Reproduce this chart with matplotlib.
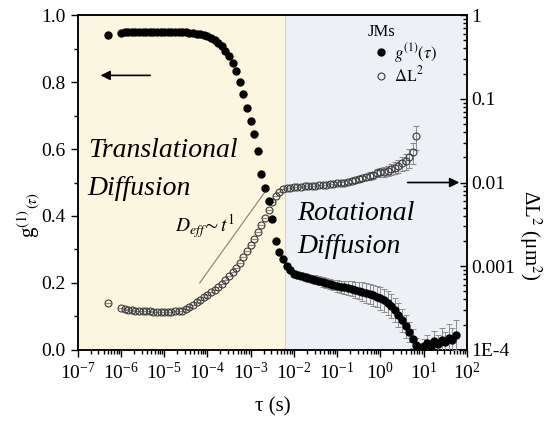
import numpy as np
import matplotlib
matplotlib.use("Agg")
import matplotlib.pyplot as plt
from matplotlib.lines import Line2D
from matplotlib.ticker import LogLocator, FixedLocator, MultipleLocator, NullFormatter, FixedFormatter

plt.rcParams['font.family'] = ['Liberation Serif', 'DejaVu Serif']
plt.rcParams['mathtext.fontset'] = 'stix'

# ---------------- data ----------------
# first (lone) point at 5e-7 s, then the correlator grid: 12 lag times per decade from 1e-6 s
tau_first = 5e-7
g1_first = 0.94
dl_first = 3.63e-4

g1 = [0.948, 0.949, 0.949, 0.950, 0.950, 0.950, 0.950, 0.950, 0.951, 0.951, 0.951, 0.951,
      0.951, 0.951, 0.951, 0.950, 0.950, 0.950, 0.949, 0.948, 0.947, 0.945, 0.943, 0.940,
      0.937, 0.933, 0.927, 0.918, 0.907, 0.893, 0.877, 0.857, 0.832, 0.800, 0.763, 0.722,
      0.685, 0.645, 0.595, 0.525, 0.485, 0.445, 0.390, 0.325, 0.293, 0.272, 0.250, 0.240,
      0.228, 0.225, 0.222, 0.219, 0.216, 0.213, 0.210, 0.207, 0.204, 0.200, 0.197, 0.194,
      0.191, 0.189, 0.187, 0.185, 0.183, 0.180, 0.177, 0.174, 0.171, 0.167, 0.163, 0.159,
      0.154, 0.148, 0.140, 0.130, 0.118, 0.104, 0.088, 0.070, 0.052, 0.033, 0.015, 0.006,
      0.012, 0.020, 0.010, 0.025, 0.018, 0.030, 0.024, 0.036, 0.030, 0.044]

g1_err = [0.0] * 46 + [
      0.008, 0.008,
      0.010, 0.010, 0.010, 0.012, 0.012, 0.012, 0.014, 0.014, 0.015, 0.015, 0.016, 0.016,
      0.018, 0.018, 0.020, 0.020, 0.022, 0.024, 0.026, 0.028, 0.030, 0.030, 0.032, 0.032,
      0.034, 0.034, 0.035, 0.036, 0.036, 0.036, 0.035, 0.034, 0.030, 0.028, 0.020, 0.015,
      0.020, 0.025, 0.020, 0.030, 0.025, 0.035, 0.030, 0.040, 0.035, 0.045]

# Delta L^2 in um^2
dl = [3.16e-4, 3.09e-4, 3.02e-4, 3.02e-4, 2.95e-4, 2.95e-4, 2.88e-4, 2.88e-4, 2.88e-4, 2.82e-4, 2.82e-4, 2.82e-4,
      2.82e-4, 2.82e-4, 2.82e-4, 2.88e-4, 2.88e-4, 2.95e-4, 3.09e-4, 3.24e-4, 3.47e-4, 3.72e-4, 3.98e-4, 4.27e-4,
      4.57e-4, 4.90e-4, 5.25e-4, 5.62e-4, 6.17e-4, 6.76e-4, 7.59e-4, 8.51e-4, 9.55e-4, 1.10e-3, 1.29e-3, 1.51e-3,
      1.78e-3, 2.14e-3, 2.57e-3, 3.09e-3, 3.72e-3, 4.68e-3, 5.89e-3, 6.92e-3, 7.76e-3, 8.32e-3, 8.51e-3, 8.71e-3,
      8.91e-3, 8.91e-3, 8.91e-3, 9.12e-3, 9.12e-3, 9.12e-3, 9.12e-3, 9.33e-3, 9.33e-3, 9.33e-3, 9.55e-3, 9.55e-3,
      9.77e-3, 9.77e-3, 1.00e-2, 1.02e-2, 1.05e-2, 1.07e-2, 1.10e-2, 1.12e-2, 1.17e-2, 1.20e-2, 1.23e-2, 1.29e-2,
      1.32e-2, 1.35e-2, 1.38e-2, 1.45e-2, 1.51e-2, 1.58e-2, 1.70e-2, 1.82e-2, 2.00e-2, 2.29e-2, 3.63e-2]

dl_relerr = [0.0] * 60 + [
      0.05, 0.05, 0.06, 0.06, 0.07, 0.07, 0.08, 0.08, 0.09, 0.10, 0.10, 0.11,
      0.12, 0.13, 0.14, 0.15, 0.16, 0.18, 0.20, 0.22, 0.25, 0.28, 0.32]

tau_split = 6.2e-3          # translational / rotational boundary
fit_tau = [6.6e-5, 2.1e-3]  # guide line D_eff ~ t^1
fit_dl = [6.3e-4, 7.6e-3]

# ---------------- assemble ----------------
tau = np.logspace(-6, -6 + (len(g1) - 1) / 12, len(g1))
tau_g = np.concatenate([[tau_first], tau])
g_all = np.concatenate([[g1_first], g1])
g_err = np.concatenate([[0.0], g1_err])
tau_d = np.concatenate([[tau_first], tau[:len(dl)]])
d_all = np.concatenate([[dl_first], dl])
d_err = np.concatenate([[0.0], np.array(dl_relerr) * np.array(dl)])

fig = plt.figure(figsize=(5.44, 4.21), dpi=100)
ax = fig.add_axes([0.143, 0.169, 0.715, 0.795])
ax2 = ax.twinx()
ax.set_zorder(ax2.get_zorder() + 1)
ax.patch.set_visible(False)

# backgrounds
ax2.axvspan(1e-7, tau_split, color='#fbf6e0', lw=0, zorder=0)
ax2.axvspan(tau_split, 1e2, color='#edf0f4', lw=0, zorder=0)
ax2.axvline(tau_split, color='#d9d6c8', lw=0.8, zorder=0.5)

MS = 5.0
# Delta L^2 (right axis)
ax2.errorbar(tau_d, d_all, yerr=d_err, fmt='o', ms=MS, mfc='none', mec='#3a3a3a', mew=0.8,
             ecolor='#8c8c8c', elinewidth=0.7, capsize=2, capthick=0.7, zorder=2)
ax2.plot(fit_tau, fit_dl, color='#8a8070', lw=0.8, zorder=1)

# g1 (left axis)
ax.errorbar(tau_g, g_all, yerr=g_err, fmt='o', ms=MS, color='black',
            ecolor='#8c8c8c', elinewidth=0.7, capsize=2, capthick=0.7, zorder=3)

ax.set_xscale('log')
ax.set_xlim(1e-7, 1e2)
ax.set_ylim(0, 1)
ax2.set_yscale('log')
ax2.set_ylim(1e-4, 1)

# ticks
ax.xaxis.set_major_locator(LogLocator(base=10, numticks=20))
ax.xaxis.set_minor_locator(LogLocator(base=10, subs=np.arange(2, 10), numticks=20))
ax.xaxis.set_minor_formatter(NullFormatter())
ax.yaxis.set_major_locator(MultipleLocator(0.2))
ax.yaxis.set_minor_locator(MultipleLocator(0.1))
ax.set_yticklabels([f'{v:.1f}' for v in ax.get_yticks()])
ax.tick_params(axis='both', which='both', direction='out', labelsize=14, top=False, right=False, width=1)
ax.tick_params(axis='both', which='major', length=5)
ax.tick_params(axis='both', which='minor', length=3)

ax2.yaxis.set_major_locator(FixedLocator([1e-4, 1e-3, 1e-2, 1e-1, 1]))
ax2.yaxis.set_major_formatter(FixedFormatter(['1E-4', '0.001', '0.01', '0.1', '1']))
ax2.yaxis.set_minor_locator(LogLocator(base=10, subs=np.arange(2, 10), numticks=20))
ax2.yaxis.set_minor_formatter(NullFormatter())
ax2.tick_params(axis='y', which='both', direction='in', labelsize=14, width=1)
ax2.tick_params(axis='y', which='major', length=5)
ax2.tick_params(axis='y', which='minor', length=3)

for a in (ax, ax2):
    for s in a.spines.values():
        s.set_linewidth(1.1)

# annotations
ax.annotate('', xy=(2.9e-7, 0.82), xytext=(5.5e-6, 0.82),
            arrowprops=dict(arrowstyle='-|>', color='black', lw=1.2, mutation_scale=14))
ax2.annotate('', xy=(78, 0.01), xytext=(3.7, 0.01),
             arrowprops=dict(arrowstyle='-|>', color='black', lw=1.2, mutation_scale=14))

ax.text(1.7e-7, 0.576, 'Translational', fontsize=20, style='italic', va='baseline')
ax.text(1.7e-7, 0.463, 'Diffusion', fontsize=20, style='italic', va='baseline')
ax.text(1.17e-2, 0.388, 'Rotational', fontsize=20, style='italic', va='baseline')
ax.text(1.17e-2, 0.290, 'Diffusion', fontsize=20, style='italic', va='baseline')
ax.text(1.8e-5, 0.352, r'$D_{eff}\!\sim t^{1}$', fontsize=14, va='baseline')

handles = [Line2D([], [], ls='none', marker='o', ms=MS, color='black'),
           Line2D([], [], ls='none', marker='o', ms=MS, mfc='none', mec='#3a3a3a', mew=0.8)]
leg = ax.legend(handles, [r'$g^{(1)}(\tau)$', r'$\Delta$L$^2$'], title='JMs', loc='upper left',
                bbox_to_anchor=(0.715, 1.008), frameon=False, fontsize=12, title_fontsize=12,
                handletextpad=0.0, labelspacing=0.05, handlelength=1.6, borderpad=0.2)
leg._legend_box.align = 'left'

fig.text(0.052, 1 - 215 / 421, r'g$^{(1)}$$_{(\tau)}$', rotation=90, ha='center', va='center', fontsize=15)
fig.text(0.975, 1 - 235 / 421, 'ΔL$^2$ (μm$^2$)', rotation=270, ha='center', va='center', fontsize=15)
fig.text(0.502, 1 - 407 / 421, 'τ (s)', ha='center', va='center', fontsize=15)

fig.savefig('out.png', dpi=100)
